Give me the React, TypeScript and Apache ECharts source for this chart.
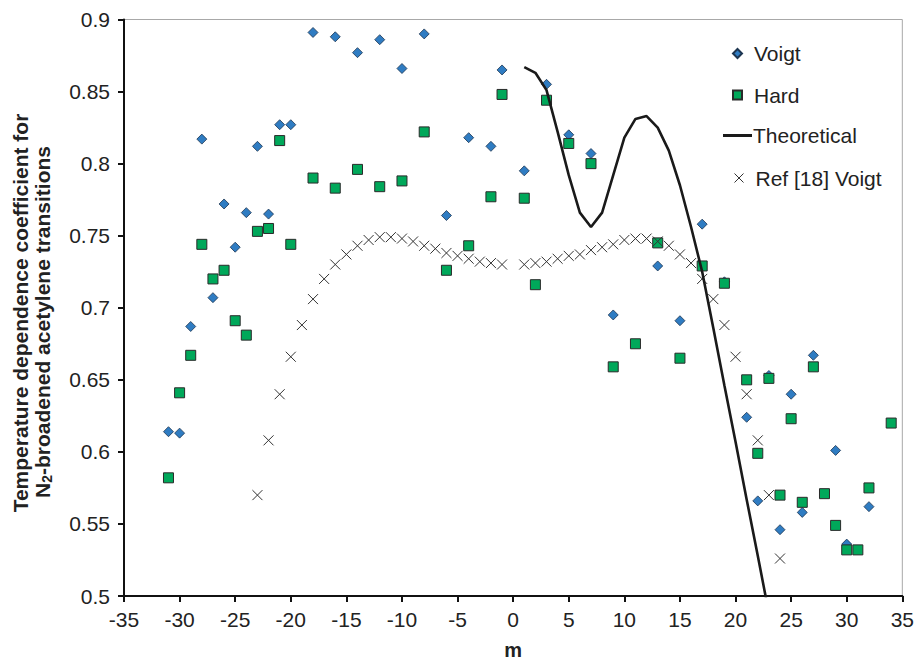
import React, { useEffect, useRef } from "react";
import * as echarts from "echarts";

// ---- Data ----
const voigtM = [-31, -30, -29, -28, -27, -26, -25, -24, -23, -22, -21, -20, -18, -16, -14, -12, -10, -8, -6, -4, -2, -1, 1, 3, 5, 7, 9, 13, 15, 17, 19, 21, 22, 23, 24, 25, 26, 27, 29, 30, 32];
const voigtV = [0.614, 0.613, 0.687, 0.817, 0.707, 0.772, 0.742, 0.766, 0.812, 0.765, 0.827, 0.827, 0.891, 0.888, 0.877, 0.886, 0.866, 0.890, 0.764, 0.818, 0.812, 0.865, 0.795, 0.855, 0.820, 0.807, 0.695, 0.729, 0.691, 0.758, 0.718, 0.624, 0.566, 0.653, 0.546, 0.640, 0.558, 0.667, 0.601, 0.536, 0.562];

const hardM = [-31, -30, -29, -28, -27, -26, -25, -24, -23, -22, -21, -20, -18, -16, -14, -12, -10, -8, -6, -4, -2, -1, 1, 2, 3, 5, 7, 9, 11, 13, 15, 17, 19, 21, 22, 23, 24, 25, 26, 27, 28, 29, 30, 31, 32, 34];
const hardV = [0.582, 0.641, 0.667, 0.744, 0.720, 0.726, 0.691, 0.681, 0.753, 0.755, 0.816, 0.744, 0.790, 0.783, 0.796, 0.784, 0.788, 0.822, 0.726, 0.743, 0.777, 0.848, 0.776, 0.716, 0.844, 0.814, 0.800, 0.659, 0.675, 0.745, 0.665, 0.729, 0.717, 0.650, 0.599, 0.651, 0.570, 0.623, 0.565, 0.659, 0.571, 0.549, 0.532, 0.532, 0.575, 0.620];

const theoM = [1, 2, 3, 4, 5, 6, 7, 8, 9, 10, 11, 12, 13, 14, 15, 16, 17, 18, 19, 20, 21, 22, 23];
const theoV = [0.867, 0.863, 0.851, 0.822, 0.792, 0.766, 0.756, 0.766, 0.792, 0.818, 0.831, 0.833, 0.825, 0.809, 0.785, 0.756, 0.725, 0.686, 0.646, 0.607, 0.567, 0.528, 0.488];

const refM = [-23, -22, -21, -20, -19, -18, -17, -16, -15, -14, -13, -12, -11, -10, -9, -8, -7, -6, -5, -4, -3, -2, -1, 1, 2, 3, 4, 5, 6, 7, 8, 9, 10, 11, 12, 13, 14, 15, 16, 17, 18, 19, 20, 21, 22, 23, 24];
const refV = [0.570, 0.608, 0.640, 0.666, 0.688, 0.706, 0.720, 0.730, 0.737, 0.743, 0.747, 0.749, 0.749, 0.748, 0.746, 0.743, 0.741, 0.738, 0.736, 0.734, 0.732, 0.731, 0.730, 0.730, 0.731, 0.732, 0.734, 0.736, 0.737, 0.740, 0.742, 0.744, 0.747, 0.748, 0.748, 0.746, 0.743, 0.737, 0.731, 0.720, 0.706, 0.688, 0.666, 0.640, 0.608, 0.570, 0.526];

const seriesNames = ["Voigt", "Hard", "Theoretical", "Ref [18] Voigt"];
const yTitle1 = "Temperature dependence coefficient for";
const yTitle2 = "N{sub|2}-broadened acetylene transitions";
const xTitle = "m";

const FONT = "'Liberation Sans', Arial, Helvetica, sans-serif";
const CROSS = "path://M0,0L10,10M0,10L10,0";

const pairs = (xs: number[], ys: number[]) => xs.map((x, i) => [x, ys[i]]);

export default function App() {
  const ref = useRef<HTMLDivElement>(null);
  useEffect(() => {
    if (!ref.current) return;
    const chart = echarts.init(ref.current, null, { renderer: "svg" });
    const legendBase = {
      orient: "vertical",
      padding: 0,
      selectedMode: false,
      textStyle: { fontSize: 21, color: "#222", fontFamily: FONT },
    };
    const symLegend = (top: number, name: string, icon: string, itemStyle?: any) => ({
      ...legendBase,
      left: 732,
      top,
      itemWidth: 9,
      itemHeight: 9,
      textStyle: { ...legendBase.textStyle, padding: [0, 0, 0, 7] },
      data: [itemStyle ? { name, icon, itemStyle } : { name, icon }],
    });
    chart.setOption({
      animation: false,
      backgroundColor: "#fff",
      grid: {
        left: 124,
        right: 13,
        top: 19.5,
        bottom: 62,
        show: true,
        borderColor: "#a8a8a8",
        borderWidth: 1,
      },
      xAxis: {
        type: "value",
        min: -35,
        max: 35,
        interval: 5,
        name: xTitle,
        nameLocation: "middle",
        nameGap: 44,
        nameTextStyle: { fontSize: 20, fontWeight: "bold", color: "#222", fontFamily: FONT },
        axisLine: { onZero: false, lineStyle: { color: "#111", width: 2 } },
        axisTick: { show: true, inside: false, length: 6, lineStyle: { color: "#111", width: 2 } },
        axisLabel: { fontSize: 21, color: "#222", margin: 13, fontFamily: FONT },
        splitLine: { show: false },
      },
      yAxis: {
        type: "value",
        min: 0.5,
        max: 0.9,
        interval: 0.05,
        axisLine: { show: true, onZero: false, lineStyle: { color: "#111", width: 2 } },
        axisTick: { show: true, inside: false, length: 6, lineStyle: { color: "#111", width: 2 } },
        axisLabel: {
          fontSize: 21,
          color: "#222",
          margin: 14,
          fontFamily: FONT,
          formatter: (v: number) => String(Math.round(v * 100) / 100),
        },
        splitLine: { show: false },
      },
      legend: [
        symLegend(43, seriesNames[0], "diamond"),
        symLegend(84.5, seriesNames[1], "rect"),
        {
          ...legendBase,
          left: 723,
          top: 125,
          itemWidth: 29,
          itemHeight: 3,
          textStyle: { ...legendBase.textStyle, padding: [0, 0, 0, -4] },
          data: [{ name: seriesNames[2], icon: "rect", itemStyle: { color: "#1a1a1a", borderWidth: 0 } }],
        },
        symLegend(167.5, seriesNames[3], CROSS, { color: "none", borderColor: "#333", borderWidth: 1 }),
      ],
      graphic: [
        {
          type: "text",
          x: 20,
          y: 313,
          rotation: Math.PI / 2,
          style: {
            text: yTitle1,
            fontSize: 21,
            fontWeight: "bold",
            fontFamily: FONT,
            fill: "#222",
            align: "center",
            verticalAlign: "middle",
          },
        },
        {
          type: "text",
          x: 42,
          y: 322,
          rotation: Math.PI / 2,
          style: {
            text: yTitle2,
            fontSize: 21,
            fontWeight: "bold",
            fontFamily: FONT,
            fill: "#222",
            align: "center",
            verticalAlign: "middle",
            lineHeight: 24,
            rich: {
              sub: {
                fontSize: 14,
                fontWeight: "bold",
                fontFamily: FONT,
                fill: "#222",
                lineHeight: 14,
                verticalAlign: "bottom",
              },
            },
          },
        },
      ],
      series: [
        {
          name: seriesNames[0],
          type: "scatter",
          symbol: "diamond",
          symbolSize: 10,
          itemStyle: { color: "#2f7cc2", borderColor: "#1d3550", borderWidth: 0.8, opacity: 1 },
          data: pairs(voigtM, voigtV),
        },
        {
          name: seriesNames[1],
          type: "scatter",
          symbol: "rect",
          symbolSize: 10,
          itemStyle: { color: "#00a85a", borderColor: "#2a2a2a", borderWidth: 1, opacity: 1 },
          data: pairs(hardM, hardV),
        },
        {
          name: seriesNames[2],
          type: "line",
          showSymbol: false,
          symbol: "none",
          smooth: false,
          clip: true,
          lineStyle: { color: "#1a1a1a", width: 2.6 },
          itemStyle: { color: "#1a1a1a" },
          data: pairs(theoM, theoV),
        },
        {
          name: seriesNames[3],
          type: "scatter",
          symbol: CROSS,
          symbolSize: 10,
          itemStyle: { color: "none", borderColor: "#333", borderWidth: 1, opacity: 1 },
          data: pairs(refM, refV),
        },
      ],
    });
    return () => chart.dispose();
  }, []);
  return (
    <div
      ref={ref}
      style={{ position: "fixed", left: 0, top: 0, width: 917, height: 665, background: "#fff" }}
    />
  );
}
